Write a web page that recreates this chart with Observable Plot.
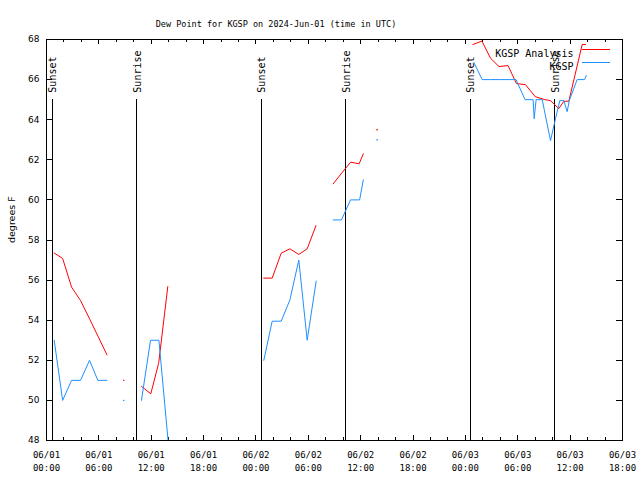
<!DOCTYPE html>
<html><head><meta charset="utf-8">
<script src="https://cdn.jsdelivr.net/npm/d3@7"></script>
<script src="https://cdn.jsdelivr.net/npm/@observablehq/plot@0.6"></script>
<style>body{margin:0;background:#fff}</style>
</head><body><div id="chart"></div>
<script>
const title = "Dew Point for KGSP on 2024-Jun-01 (time in UTC)";
const yLabel = "degrees F";
const startUTC = Date.UTC(2024, 5, 1, 0, 0);
const endHour = 66;
const yDomain = [48, 68];
const yTicks = [48, 50, 52, 54, 56, 58, 60, 62, 64, 66, 68];
const seriesNames = ["KGSP Analysis", "KGSP"];
const seriesColors = ["#ff0000", "#1e90ff"];

// hours after 06/01 00:00 UTC; null separates segments
const analysisHours = [0.88, 1.85, 2.87, 3.9, 4.9, 5.9, 6.93, null,
  8.85, null,
  10.88, 11.95, 12.85, 13.9, null,
  24.88, 25.86, 26.89, 27.88, 28.91, 29.87, 30.88, null,
  32.85, 33.88, 34.85, 35.82, 36.3, null,
  37.88, null,
  48.85, 49.9, 50.87, 51.85, 52.88, 53.85, 54.88, 56.0, 57.1, 57.75, 58.7, 59.28, 59.85, 61.38, 61.76];
const analysisValues = [57.35, 57.08, 55.65, 54.98, 54.1, 53.2, 52.27, null,
  51.0, null,
  50.7, 50.33, 51.85, 55.68, null,
  56.1, 56.1, 57.34, 57.56, 57.28, 57.56, 58.72, null,
  60.8, 61.37, 61.88, 61.8, 62.3, null,
  63.5, null,
  67.75, 67.92, 67.07, 66.65, 66.7, 65.8, 65.75, 65.15, 65.0, 64.95, 64.55, 64.92, 64.92, 67.75, 67.75];

const obsHours = [0.88, 1.85, 2.87, 3.9, 4.93, 5.88, 6.93, null,
  8.85, null,
  10.88, 11.92, 12.88, 13.93, null,
  24.9, 25.86, 26.89, 27.88, 28.91, 29.87, 30.9, null,
  32.85, 33.8, 34.83, 35.88, 36.3, null,
  37.88, null,
  48.97, 49.92, 50.88, 51.88, 52.88, 53.8, 54.83, 55.76, 55.88, 56.1, 56.8, 57.75, 58.32, 58.82, 59.28, 59.66, 59.9, 60.8, 61.65, 61.84];
const obsValues = [53.0, 50.0, 51.0, 51.0, 52.0, 51.0, 51.0, null,
  50.0, null,
  50.0, 53.0, 53.0, 48.0, null,
  52.0, 53.95, 53.95, 55.0, 57.0, 53.0, 55.95, null,
  59.0, 59.0, 60.0, 60.0, 61.0, null,
  63.0, null,
  66.85, 66.0, 66.0, 66.0, 66.0, 66.0, 65.0, 65.0, 64.05, 65.0, 65.0, 62.95, 64.05, 64.95, 64.95, 64.4, 64.95, 66.0, 66.0, 66.2];

const sunHours = [0.65, 10.35, 24.6, 34.3, 48.55, 58.25];
const sunLabels = ["Sunset", "Sunrise", "Sunset", "Sunrise", "Sunset", "Sunrise"];
const sunLineTop = 65;

const toDate = h => h == null ? null : new Date(startUTC + h * 3600e3);
function rows(hours, values) {
  return hours.map((h, i) => ({t: toDate(h), v: values[i]}));
}
function isolated(r) {
  return r.filter((d, i) => d.v != null &&
    (i === 0 || r[i - 1].v == null) && (i === r.length - 1 || r[i + 1].v == null));
}
const redRows = rows(analysisHours, analysisValues);
const blueRows = rows(obsHours, obsValues);
const sun = sunHours.map((h, i) => ({t: toDate(h), label: sunLabels[i]}));

const x0 = toDate(0), x1 = toDate(endHour);
const majorTicks = d3.utcHour.every(6).range(x0, new Date(+x1 + 1));
const minorTicks = d3.utcHour.every(2).range(x0, new Date(+x1 + 1)).filter(d => d.getUTCHours() % 6 !== 0);

const W = 640, H = 480, mL = 46, mR = 18, mT = 39, mB = 40;
const fw = W - mL - mR, fh = H - mT - mB;
const font = "DejaVu Sans Mono";

const legendMark = (index, scales, values, dims) => {
  const g = d3.create("svg:g");
  const xr = dims.width - dims.marginRight;
  seriesColors.forEach((c, i) => {
    g.append("line").attr("x1", xr - 40).attr("x2", xr - 12)
      .attr("y1", dims.marginTop + 10.5 + 13 * i).attr("y2", dims.marginTop + 10.5 + 13 * i)
      .attr("stroke", c).attr("stroke-width", 1).attr("shape-rendering", "crispEdges");
  });
  return g.node();
};

const chart = Plot.plot({
  width: W, height: H,
  marginLeft: mL, marginRight: mR, marginTop: mT, marginBottom: mB,
  style: {fontFamily: font, fontSize: "8.5px", background: "#fff", color: "#000"},
  x: {type: "utc", domain: [x0, x1]},
  y: {domain: yDomain},
  marks: [
    Plot.axisX({ticks: majorTicks, tickSize: 0, tickPadding: 9, lineHeight: 1.4,
      tickFormat: d3.utcFormat("%m/%d\n%H:%M"), label: null, fontSize: 9}),
    Plot.axisY({ticks: yTicks, tickSize: 0, tickPadding: 7, label: null, fontSize: 9, fontFamily: "DejaVu Sans"}),
    Plot.tickX(majorTicks, {x: d => d, insetTop: fh - 5, stroke: "black", shapeRendering: "crispEdges"}),
    Plot.tickX(majorTicks, {x: d => d, insetBottom: fh - 5, stroke: "black", shapeRendering: "crispEdges"}),
    Plot.tickX(minorTicks, {x: d => d, insetTop: fh - 3, stroke: "black", shapeRendering: "crispEdges"}),
    Plot.tickX(minorTicks, {x: d => d, insetBottom: fh - 3, stroke: "black", shapeRendering: "crispEdges"}),
    Plot.tickY(yTicks, {y: d => d, insetRight: fw - 6, stroke: "black", shapeRendering: "crispEdges"}),
    Plot.tickY(yTicks, {y: d => d, insetLeft: fw - 6, stroke: "black", shapeRendering: "crispEdges"}),
    Plot.ruleX(sun, {x: "t", y1: yDomain[0], y2: sunLineTop, stroke: "black", strokeWidth: 1, shapeRendering: "crispEdges"}),
    Plot.text(sun, {x: "t", y: sunLineTop, text: "label", rotate: -90, textAnchor: "start", dy: -7, dx: 1, fontSize: 10, fill: "black"}),
    Plot.line(redRows, {x: "t", y: "v", stroke: seriesColors[0], strokeWidth: 1, clip: true}),
    Plot.line(blueRows, {x: "t", y: "v", stroke: seriesColors[1], strokeWidth: 1, clip: true}),
    Plot.dot(isolated(redRows), {x: "t", y: "v", r: 0.7, fill: seriesColors[0], stroke: null}),
    Plot.dot(isolated(blueRows), {x: "t", y: "v", r: 0.7, fill: seriesColors[1], stroke: null}),
    Plot.frame({stroke: "black", shapeRendering: "crispEdges"}),
    Plot.text([title], {frameAnchor: "top-left", textAnchor: "middle", dx: 229.5, dy: -19, fontSize: 8.5}),
    Plot.text([yLabel], {frameAnchor: "left", rotate: -90, dx: -35, dy: 3, fontSize: 9.5, fontFamily: "DejaVu Sans"}),
    Plot.text([seriesNames[0]], {frameAnchor: "top-right", textAnchor: "end", dx: -49, dy: 10, fontSize: 10}),
    Plot.text([seriesNames[1]], {frameAnchor: "top-right", textAnchor: "end", dx: -49, dy: 23, fontSize: 10}),
    legendMark
  ]
});
document.getElementById("chart").append(chart);
</script>
</body></html>
